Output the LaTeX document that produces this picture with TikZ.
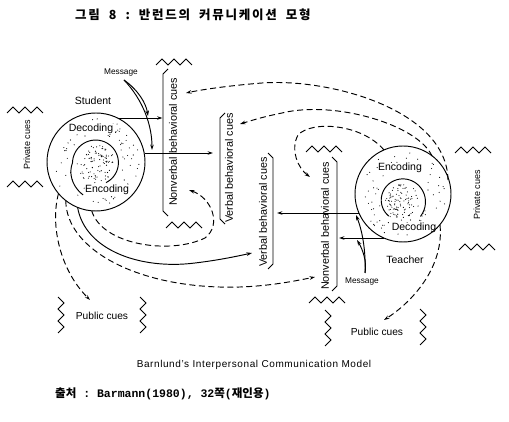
\documentclass[tikz,border=0pt]{standalone}
\usepackage{fontspec}
\setmainfont{Liberation Sans}
\newfontfamily\kr{Noto Sans CJK KR}
\newfontfamily\krsp[LetterSpace=14]{Noto Sans CJK KR}
\newfontfamily\mono{Liberation Mono}
\newfontfamily\capfont[LetterSpace=6]{Liberation Sans}
\usetikzlibrary{arrows.meta}
\begin{document}
\begin{tikzpicture}[x=1pt,y=-1pt,
  ln/.style={line width=0.95pt},
  arr/.style={ln,-{Stealth[length=5.5pt,width=3.6pt]}},
  dsh/.style={dash pattern=on 6pt off 3.5pt},
  zz/.style={line width=0.8pt},
  lbl/.style={font=\fontsize{10.5}{12}\selectfont, inner sep=0.6pt, fill=white},
  cue/.style={rotate=90, font=\fontsize{10.8}{12}\selectfont, inner sep=0.5pt},
  msg/.style={font=\fontsize{8.3}{9}\selectfont, inner sep=0.5pt},
  pcue/.style={rotate=90, font=\fontsize{9}{10}\selectfont, inner sep=0.5pt},
  pub/.style={font=\fontsize{10.2}{12}\selectfont, inner sep=0.5pt},
  zigh/.pic={\draw[zz] (0,0) -- (6,-6) -- (12,0) -- (18,-6) -- (24,0) -- (30,-6) -- (36,0);},
  zigv/.pic={\draw[zz] (0,0) -- (6,6) -- (0,12) -- (6,18) -- (0,24) -- (6,30) -- (0,36);},
]
\useasboundingbox (0,0) rectangle (509,422);
\fill[white] (0,0) rectangle (509,422);

% stipple
\pgfmathsetseed{12}
\foreach \i in {1,...,75} {\pgfmathsetmacro\myr{27+17*rnd}\pgfmathsetmacro\mya{360*rnd}\fill ({96+\myr*cos(\mya)},{162+\myr*sin(\mya)}) circle[radius=0.55pt];}
\foreach \i in {1,...,95} {\pgfmathsetmacro\myr{19*sqrt(rnd)}\pgfmathsetmacro\mya{360*rnd}\fill ({96+\myr*cos(\mya)},{164+\myr*sin(\mya)}) circle[radius=0.55pt];}
\foreach \i in {1,...,75} {\pgfmathsetmacro\myr{25+18*rnd}\pgfmathsetmacro\mya{360*rnd}\fill ({403+\myr*cos(\mya)},{194+\myr*sin(\mya)}) circle[radius=0.55pt];}
\foreach \i in {1,...,95} {\pgfmathsetmacro\myr{17*sqrt(rnd)}\pgfmathsetmacro\mya{360*rnd}\fill ({402+\myr*cos(\mya)},{201+\myr*sin(\mya)}) circle[radius=0.55pt];}

% title and source
\node[anchor=base west, inner sep=0] (title) at (75,20) {\krsp\bfseries\fontsize{12.5}{14}\selectfont 그림\hspace{9pt}8\hspace{9pt}:\hspace{9pt}반런드의\hspace{9pt}커뮤니케이션\hspace{9pt}모형};
\node[anchor=base west, inner sep=0] (src) at (55,397) {\kr\bfseries\fontsize{11.5}{13}\selectfont 출처{\mono\bfseries\ :\ Barmann(1980),\ 32}쪽{\mono\bfseries (}재인용{\mono\bfseries )}};
\node[inner sep=0] (cap) at (254,365) {\capfont\fontsize{10}{11}\selectfont Barnlund’s Interpersonal Communication Model};

% labels
\node[msg] (msgL) at (121,73) {Message};
\node[lbl] (stud) at (93,101) {Student};
\node[lbl] (decL) at (91,129) {Decoding};
\node[lbl] (encL) at (107,190) {Encoding};
\node[pcue] (prL) at (27,145) {Private cues};
\node[cue] (nvL) at (173,142) {Nonverbal behavioral cues};
\node[cue] (vL) at (229,168) {Verbal behavioral cues};
\node[cue] (vR) at (263,212) {Verbal behavioral cues};
\node[cue] (nvR) at (325,226) {Nonverbal behavioral cues};
\node[lbl] (encR) at (400,168) {Encoding};
\node[lbl] (decR) at (414,228) {Decoding};
\node[lbl] (teach) at (405,260) {Teacher};
\node[msg] (msgR) at (362,282) {Message};
\node[pcue] (prR) at (477,195) {Private cues};
\node[pub] (puL) at (102,316) {Public cues};
\node[pub] (puR) at (377,332) {Public cues};

% persons
\node[circle, draw, ln, minimum size=98pt, inner sep=0] (L) at (96,162) {};
\node[circle, draw, ln, minimum size=96pt, inner sep=0] (R) at (403,194) {};
\draw[ln] plot[domain=63:-248, samples=100, variable=\t] ({96 + (22 + 0.0062*(63-\t) + 0.154*max(0,-180-\t))*cos(\t)}, {163 + (22 + 0.0062*(63-\t) + 0.154*max(0,-180-\t))*sin(\t)});
\draw[ln] plot[domain=131:400, samples=100, variable=\t] ({402 + (20 + 0.015*(\t-131))*cos(\t)}, {201 + (20 + 0.015*(\t-131))*sin(\t)});

% brackets
\draw[ln] (168,69) -- (163,74) -- (163,211) -- (168,216);
\draw[ln] (225,113) -- (220,118) -- (220,219) -- (225,224);
\draw[ln] (268,153) -- (273,158) -- (273,264) -- (268,269);
\draw[ln] (332,157) -- (337,162) -- (337,286) -- (332,291);

% coordinates
\coordinate (a1s) at (118,118); \coordinate (a1e) at (162.5,118);
\coordinate (a2s) at (145,153); \coordinate (a2e) at (213,153);
\coordinate (a3s) at (359,213); \coordinate (a3e) at (277,213);
\coordinate (a4s) at (384,238); \coordinate (a4e) at (339,238);
\coordinate (mL) at (124,80);
\coordinate (mR) at (365,273);

% message arrows
\draw[arr] (a1s) -- (a1e);
\draw[arr] (a2s) -- (a2e);
\draw[arr] (a3s) -- (a3e);
\draw[arr] (a4s) -- (a4e);
\draw[arr] (mL) .. controls (138,90) and (146,103) .. (148,116);
\draw[arr] (mL) .. controls (143,100) and (152,125) .. (152,150);
\draw[arr] (mR) .. controls (366,250) and (362,230) .. (356,215);
\draw[arr] (mR) .. controls (367,262) and (363,250) .. (357,240);

% feedback (top, from teacher)
\draw[arr,dsh] (448,180) .. controls (447,110) and (330,78) .. (262,83) .. controls (225,86) and (200,90) .. (186,93);
\draw[arr,dsh] (432,156) .. controls (418,125) and (335,100) .. (282,113) .. controls (262,117) and (250,121) .. (240,124);
\draw[arr,dsh] (384,150) .. controls (362,124) and (312,120) .. (298,135) .. controls (290,150) and (298,168) .. (310,177);

% from student (bottom)
\draw[arr,dsh] (58.5,193.5) .. controls (50,225) and (60,270) .. (90,300);
\draw[arr,dsh] (65.8,200.6) .. controls (66,250) and (140,290) .. (240,287) .. controls (270,286) and (295,281) .. (315,277);
\draw[arr] (77.6,207.4) .. controls (85,250) and (140,270) .. (195,263) .. controls (220,260) and (238,256) .. (252,253);
\draw[arr,dsh] (91.7,210.8) .. controls (102,245) and (170,255) .. (205,238) .. controls (222,225) and (212,198) .. (189,190);
\draw[arr,dsh] (440,225) .. controls (444,265) and (415,300) .. (384,320);

% zigzags
\pic at (7,113) {zigh};
\pic at (7,187) {zigh};
\pic at (156,65) {zigh};
\pic at (166,228) {zigh};
\pic at (306,152) {zigh};
\pic at (309,303) {zigh};
\pic at (455,153) {zigh};
\pic at (459,250) {zigh};
\pic at (58,297) {zigv};
\pic at (140,297) {zigv};
\pic at (325,310) {zigv};
\pic at (420,309) {zigv};
\end{tikzpicture}
\end{document}
